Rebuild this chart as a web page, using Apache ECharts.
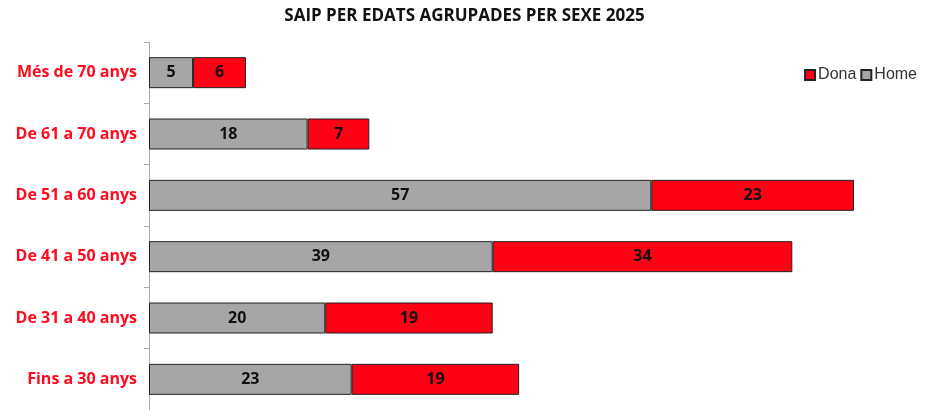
<!DOCTYPE html>
<html>
<head>
<meta charset="utf-8">
<script src="https://cdn.jsdelivr.net/npm/echarts@6/dist/echarts.min.js"></script>
<style>
  html, body { margin: 0; padding: 0; background: #fff; }
  #chart { width: 929px; height: 410px; }
</style>
</head>
<body>
<div id="chart"></div>
<script>
var categories = ['Fins a 30 anys', 'De 31 a 40 anys', 'De 41 a 50 anys', 'De 51 a 60 anys', 'De 61 a 70 anys', 'Més de 70 anys'];
var home = [23, 20, 39, 57, 18, 5];
var dona = [19, 19, 34, 23, 7, 6];

var myChart = echarts.init(document.getElementById('chart'));

var barLabel = {
    show: true,
    position: 'inside',
    color: '#111',
    fontWeight: 'bold',
    fontSize: 16,
    fontFamily: 'Open Sans'
};

option = {
    animation: false,
    title: {
        text: 'SAIP PER EDATS AGRUPADES PER SEXE 2025',
        left: 'center',
        top: 3,
        textStyle: {
            fontFamily: 'Open Sans',
            fontWeight: 'bold',
            fontSize: 17,
            color: '#111'
        }
    },
    legend: {
        data: ['Dona', 'Home'],
        right: 7,
        top: 62,
        itemWidth: 10,
        itemHeight: 10,
        itemGap: 4,
        icon: 'rect',
        textStyle: {
            fontFamily: 'Liberation Sans',
            fontSize: 16,
            color: '#333',
            padding: [0, 0, 0, -2]
        }
    },
    grid: {
        left: 149,
        top: 42,
        width: 705,
        height: 371
    },
    xAxis: {
        type: 'value',
        min: 0,
        max: 80,
        show: false
    },
    yAxis: {
        type: 'category',
        data: categories,
        axisLine: { lineStyle: { color: '#aaa', width: 1 } },
        axisTick: { show: true, length: 5, lineStyle: { color: '#aaa' } },
        axisLabel: {
            color: '#ff0a1e',
            fontWeight: 'bold',
            fontSize: 16,
            fontFamily: 'Open Sans',
            margin: 12
        }
    },
    series: [
        {
            name: 'Home',
            type: 'bar',
            stack: 'total',
            barWidth: 31,
            data: home,
            label: barLabel,
            itemStyle: { color: '#a6a6a6', borderColor: '#222', borderWidth: 1 }
        },
        {
            name: 'Dona',
            type: 'bar',
            stack: 'total',
            barWidth: 31,
            data: dona,
            label: barLabel,
            itemStyle: { color: '#ff0015', borderColor: '#222', borderWidth: 1 }
        }
    ]
};

myChart.setOption(option);
</script>
</body>
</html>
